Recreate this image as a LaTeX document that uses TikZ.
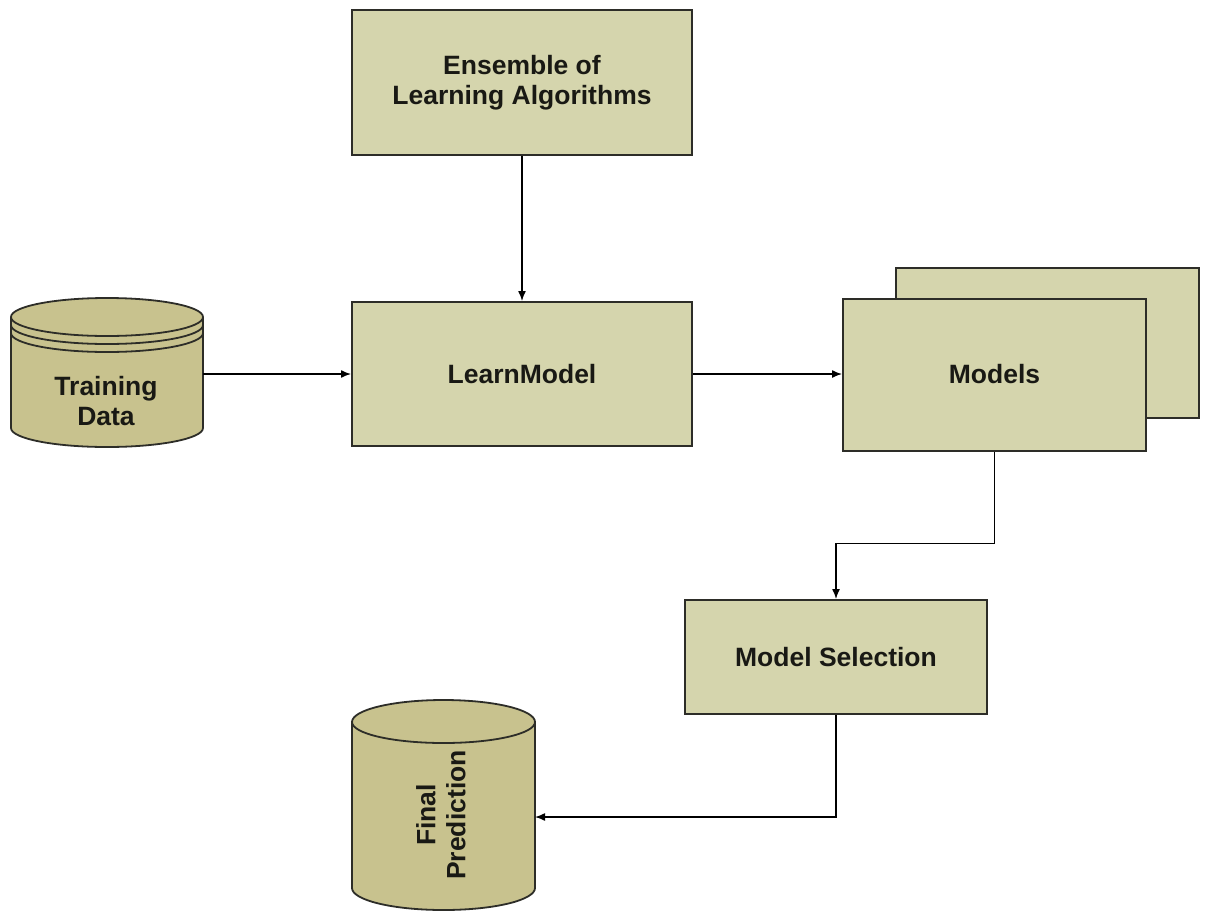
\documentclass[tikz,border=0pt]{standalone}
\usepackage{fontspec}
\setmainfont{Liberation Sans}
\usetikzlibrary{arrows.meta}
\definecolor{boxfill}{RGB}{213,213,173}
\definecolor{cylfill}{RGB}{200,194,142}
\definecolor{edgecol}{RGB}{45,45,40}
\definecolor{ink}{RGB}{25,25,20}
\newcommand\diagfont{\fontsize{26.5}{30}\selectfont\bfseries}

\begin{document}
\begin{tikzpicture}[x=1pt,y=-1pt,
  box/.style={draw=edgecol, line width=2pt, fill=boxfill, rectangle,
    font=\diagfont, text=ink, align=center, inner sep=0pt},
  cyl/.style={draw=edgecol, line width=1.8pt, fill=cylfill},
  ring/.style={draw=edgecol, line width=1.8pt},
  lbl/.style={font=\diagfont, text=ink, align=center, inner sep=0pt},
  anchorbox/.style={rectangle, inner sep=0pt, outer sep=0pt},
  link/.style={draw=black, line width=1.4pt, -{Latex[length=10pt,width=8pt]}}]

\path[use as bounding box, fill=white] (0,0) rectangle (1205,911);

% Training data cylinder with stacked rings
\path[cyl] (11,317) -- (11,428)
  arc[start angle=180, end angle=360, x radius=96pt, y radius=19pt]
  -- (203,317)
  arc[start angle=0, end angle=180, x radius=96pt, y radius=19pt] -- cycle;
\draw[ring] (11,317) arc[start angle=180, end angle=360, x radius=96pt, y radius=19pt];
\draw[ring] (11,325) arc[start angle=180, end angle=360, x radius=96pt, y radius=19pt];
\draw[ring] (11,333) arc[start angle=180, end angle=360, x radius=96pt, y radius=19pt];
\node[anchorbox, minimum width=192pt, minimum height=110pt] (train) at (107,374) {};
\node[lbl] (traintxt) at (106,401) {Training\\Data};

% Final prediction store
\path[cyl] (352,722)
  arc[start angle=180, end angle=0, x radius=91.5pt, y radius=22pt]
  -- (535,888)
  arc[start angle=0, end angle=-180, x radius=91.5pt, y radius=22pt] -- cycle;
\draw[ring] (352,722) arc[start angle=180, end angle=360, x radius=91.5pt, y radius=21pt];
\node[anchorbox, minimum width=183pt, minimum height=150pt] (final) at (443.5,817) {};
\node[lbl, rotate=90] (finaltxt) at (441,815) {Final\\Prediction};

% Process boxes
\node[box, minimum width=340pt, minimum height=145pt] (ens) at (522,82.5) {Ensemble of\\Learning Algorithms};
\node[box, minimum width=340pt, minimum height=144pt] (learn) at (522,374) {LearnModel};
\node[box, minimum width=303pt, minimum height=150pt] (modback) at (1047.5,343) {};
\node[box, minimum width=303pt, minimum height=152pt] (models) at (994.5,374.5) {Models};
\node[box, minimum width=302pt, minimum height=114pt] (sel) at (836,657) {Model Selection};

% Connectors
\draw[link] (ens.south) -- (learn.north);
\draw[link] (train.east) -- (learn.west);
\draw[link] (learn.east) -- (learn.east -| models.west);
\draw[link] (models.south) -- ++(0,92) -| (sel.north);
\draw[link] (sel.south) |- (final.east);

\end{tikzpicture}
\end{document}
